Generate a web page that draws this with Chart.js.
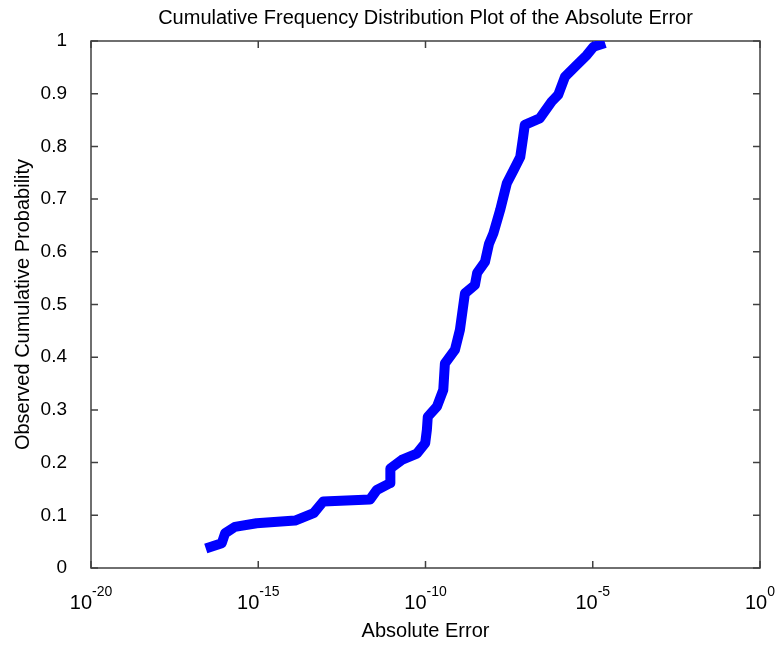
<!DOCTYPE html>
<html>
<head>
<meta charset="utf-8">
<script src="https://cdn.jsdelivr.net/npm/chart.js@4.4.1/dist/chart.umd.min.js"></script>
<style>
  body { margin: 0; background: #fff; }
  canvas { display: block; }
</style>
</head>
<body>
<canvas id="chart" width="778" height="646"></canvas>
<script>
// absolute error (x) vs observed cumulative probability (y)
var absError = [2.7e-17, 8.1e-17, 1.02e-16, 2.0e-16, 8.9e-16, 1.26e-14, 4.5e-14, 8.7e-14,
  2.19e-12, 3.5e-12, 8.7e-12, 8.9e-12, 1.95e-11, 5.5e-11, 9.8e-11, 1.10e-10, 1.17e-10,
  2.19e-10, 3.4e-10, 3.8e-10, 7.6e-10, 1.07e-9, 1.51e-9, 3.0e-9, 3.5e-9, 6.0e-9, 7.9e-9,
  1.07e-8, 1.70e-8, 2.7e-8, 4.3e-8, 6.8e-8, 8.3e-8, 9.3e-8, 2.6e-7, 5.9e-7, 9.3e-7,
  1.48e-6, 2.95e-6, 6.6e-6, 1.05e-5, 2.34e-5];
var cumProb = [0.037, 0.047, 0.066, 0.078, 0.085, 0.090, 0.104, 0.126,
  0.130, 0.148, 0.161, 0.189, 0.205, 0.217, 0.237, 0.262, 0.287,
  0.306, 0.338, 0.388, 0.414, 0.452, 0.521, 0.537, 0.560, 0.581, 0.615,
  0.635, 0.679, 0.730, 0.755, 0.780, 0.818, 0.841, 0.853, 0.885, 0.898,
  0.932, 0.951, 0.973, 0.989, 0.996];

var xTickExponents = ["-20", "-15", "-10", "-5", "0"];
var xTickValues = [1e-20, 1e-15, 1e-10, 1e-5, 1];

var FONT = "'Liberation Sans', Arial, Helvetica, sans-serif";

var points = [];
for (var i = 0; i < absError.length; i++) {
    points.push({x: absError[i], y: cumProb[i]});
}

// box, inward ticks and the 10^n labels
var framePlugin = {
    id: 'frame',
    beforeDatasetsDraw: function(chart) {
        var ctx = chart.ctx;
        var a = chart.chartArea;
        var xs = chart.scales.x, ys = chart.scales.y;
        ctx.save();
        ctx.strokeStyle = '#404040';
        ctx.lineWidth = 1.5;
        ctx.strokeRect(a.left, a.top, a.right - a.left, a.bottom - a.top);
        ctx.beginPath();
        for (var i = 0; i < xTickValues.length; i++) {
            var px = xs.getPixelForValue(xTickValues[i]);
            ctx.moveTo(px, a.bottom); ctx.lineTo(px, a.bottom - 7);
            ctx.moveTo(px, a.top); ctx.lineTo(px, a.top + 7);
        }
        ys.ticks.forEach(function(t) {
            var py = ys.getPixelForValue(t.value);
            ctx.moveTo(a.left, py); ctx.lineTo(a.left + 7, py);
            ctx.moveTo(a.right, py); ctx.lineTo(a.right - 7, py);
        });
        ctx.stroke();

        ctx.fillStyle = '#000';
        ctx.textBaseline = 'alphabetic';
        ctx.textAlign = 'left';
        for (var j = 0; j < xTickValues.length; j++) {
            var cx = xs.getPixelForValue(xTickValues[j]);
            ctx.font = '20px ' + FONT;
            var wb = ctx.measureText('10').width;
            ctx.font = '14px ' + FONT;
            var we = ctx.measureText(xTickExponents[j]).width;
            var start = cx - (wb + we) / 2;
            ctx.font = '20px ' + FONT;
            ctx.fillText('10', start, 609);
            ctx.font = '14px ' + FONT;
            ctx.fillText(xTickExponents[j], start + wb, 596);
        }
        ctx.restore();
    }
};

var chart = new Chart(document.getElementById('chart'), {
    type: 'line',
    data: {
        datasets: [{
            label: 'Absolute Error',
            data: points,
            borderColor: '#0000ff',
            borderWidth: 10,
            borderJoinStyle: 'round',
            pointRadius: 0,
            tension: 0,
            fill: false
        }]
    },
    options: {
        responsive: false,
        animation: false,
        devicePixelRatio: 1,
        layout: { padding: { left: 0, right: 18, top: 0, bottom: 0 } },
        plugins: {
            legend: { display: false },
            tooltip: { enabled: false },
            title: {
                display: true,
                fullSize: false,
                text: 'Cumulative Frequency Distribution Plot of the Absolute Error',
                color: '#000',
                font: { family: FONT, size: 20, weight: 'normal' },
                padding: { top: 6, bottom: 11 }
            }
        },
        scales: {
            x: {
                type: 'logarithmic',
                min: 1e-20,
                max: 1,
                grid: { display: false },
                border: { display: false },
                ticks: { display: false },
                title: {
                    display: true,
                    text: 'Absolute Error',
                    color: '#000',
                    font: { family: FONT, size: 20 },
                    padding: { top: 0, bottom: 3 }
                },
                afterFit: function(scale) { scale.height = 78; }
            },
            y: {
                min: 0,
                max: 1,
                grid: { display: false },
                border: { display: false },
                ticks: {
                    stepSize: 0.1,
                    color: '#000',
                    padding: 16,
                    font: { family: FONT, size: 19 },
                    callback: function(value) { return String(Math.round(value * 10) / 10); }
                },
                title: {
                    display: true,
                    text: 'Observed Cumulative Probability',
                    color: '#000',
                    font: { family: FONT, size: 20 },
                    padding: { top: 11, bottom: 0 }
                },
                afterFit: function(scale) { scale.width = 91; }
            }
        }
    },
    plugins: [framePlugin]
});
</script>
</body>
</html>
